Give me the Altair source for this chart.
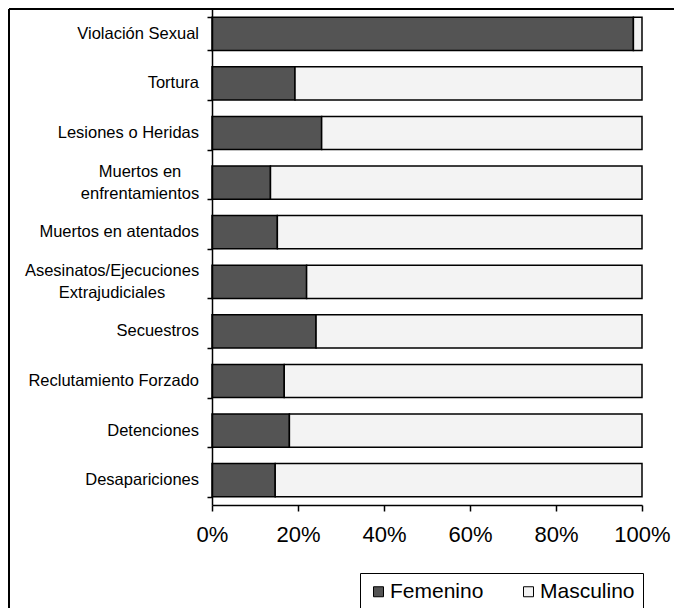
import altair as alt
import pandas as pd

categories = [
    "Violación Sexual",
    "Tortura",
    "Lesiones o Heridas",
    "Muertos en enfrentamientos",
    "Muertos en atentados",
    "Asesinatos/Ejecuciones Extrajudiciales",
    "Secuestros",
    "Reclutamiento Forzado",
    "Detenciones",
    "Desapariciones",
]
femenino = [98.0, 19.3, 25.5, 13.6, 15.2, 22.0, 24.2, 16.8, 18.0, 14.7]
masculino = [2.0, 80.7, 74.5, 86.4, 84.8, 78.0, 75.8, 83.2, 82.0, 85.3]
series = ["Femenino", "Masculino"]

single_labels = ["Violación Sexual", "Tortura", "Lesiones o Heridas", "Muertos en atentados",
                 "Secuestros", "Reclutamiento Forzado", "Detenciones", "Desapariciones"]
multi_enf = ("Muertos en enfrentamientos", "Muertos en\nenfrentamientos")
multi_ase = ("Asesinatos/Ejecuciones Extrajudiciales", "Asesinatos/Ejecuciones\nExtrajudiciales")

rows = []
for c, f, m in zip(categories, femenino, masculino):
    rows.append({"cat": c, "sexo": "Femenino", "valor": f, "ord": 0})
    rows.append({"cat": c, "sexo": "Masculino", "valor": m, "ord": 1})
df = pd.DataFrame(rows)

FONT = "Liberation Sans"
yscale = alt.Scale(domain=categories, paddingInner=0.33, paddingOuter=0.165)

bars = alt.Chart(df).mark_bar(stroke="black", strokeWidth=1.5).encode(
    x=alt.X("valor:Q", stack="normalize",
            scale=alt.Scale(domain=[0, 1], nice=False),
            axis=alt.Axis(format="%", values=[0, 0.2, 0.4, 0.6, 0.8, 1.0], title=None,
                          grid=False, domainColor="black", domainWidth=1.5,
                          tickColor="black", tickWidth=1.5, tickSize=6,
                          labelFont=FONT, labelFontSize=22, labelColor="black",
                          labelPadding=13, labelFlush=False)),
    y=alt.Y("cat:N", sort=categories, scale=yscale,
            axis=alt.Axis(labels=False, title=None, domainColor="black", domainWidth=1.5,
                          tickColor="black", tickWidth=1.5, tickSize=5, tickBand="extent",
                          zindex=1)),
    color=alt.Color("sexo:N", scale=alt.Scale(domain=series, range=["#545454", "#f3f3f3"]),
                    legend=alt.Legend(title=None, orient="none", legendX=148, legendY=564,
                                      direction="horizontal", strokeColor="black",
                                      padding=8, symbolType="square", symbolSize=100,
                                      symbolStrokeColor="black", symbolStrokeWidth=1,
                                      labelFont=FONT, labelFontSize=21, labelColor="black",
                                      columnPadding=34, labelOffset=1)),
    order=alt.Order("ord:Q"),
)

lab_single = alt.Chart(pd.DataFrame({"cat": single_labels, "label": single_labels})).mark_text(
    align="right", baseline="middle", font=FONT, fontSize=16.5, color="black"
).encode(y=alt.Y("cat:N", sort=categories, scale=yscale), x=alt.value(-13), text="label:N")

lab_enf = alt.Chart(pd.DataFrame({"cat": [multi_enf[0]], "label": [multi_enf[1]]})).mark_text(
    align="center", baseline="middle", font=FONT, fontSize=16.5, color="black",
    lineBreak="\n", lineHeight=22, dy=-11
).encode(y=alt.Y("cat:N", sort=categories, scale=yscale), x=alt.value(-72), text="label:N")

lab_ase = alt.Chart(pd.DataFrame({"cat": [multi_ase[0]], "label": [multi_ase[1]]})).mark_text(
    align="center", baseline="middle", font=FONT, fontSize=16.5, color="black",
    lineBreak="\n", lineHeight=22, dy=-11
).encode(y=alt.Y("cat:N", sort=categories, scale=yscale), x=alt.value(-100), text="label:N")

frame_data = alt.Data(values=[{"k": 1}])
frame_top = alt.Chart(frame_data).mark_rule(color="black", strokeWidth=2).encode(
    x=alt.value(-203), x2=alt.value(470), y=alt.value(0))
frame_left = alt.Chart(frame_data).mark_rule(color="black", strokeWidth=2).encode(
    x=alt.value(-203), y=alt.value(0), y2=alt.value(600))

chart = alt.layer(frame_top, frame_left, bars, lab_single, lab_enf, lab_ase).properties(
    width=430, height=496,
    autosize=alt.AutoSizeParams(type="none"),
    padding={"left": 204, "top": 1, "right": 32, "bottom": 103},
).configure_view(stroke=None).configure_legend(cornerRadius=0)

chart.save("out.html", embed_options={"renderer": "svg", "actions": False})
